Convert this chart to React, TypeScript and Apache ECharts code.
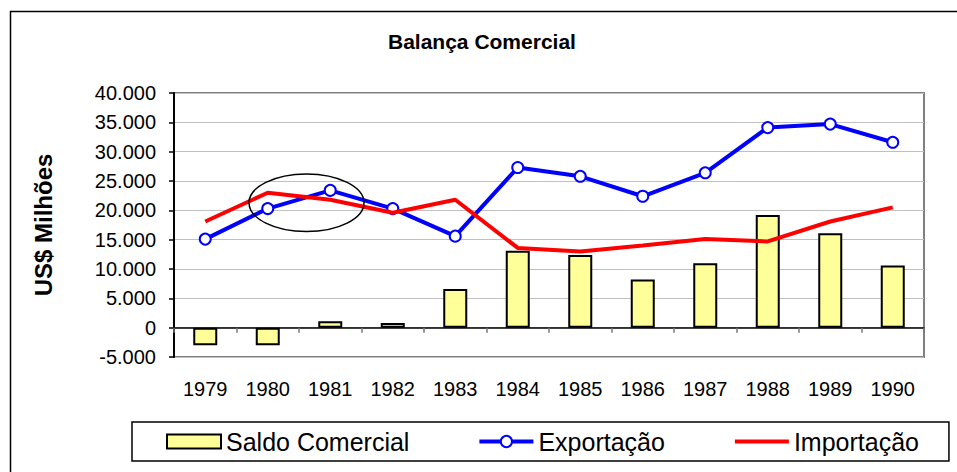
import React, { useEffect, useRef } from "react";
import * as echarts from "echarts";

const years = ["1979", "1980", "1981", "1982", "1983", "1984", "1985", "1986", "1987", "1988", "1989", "1990"];
const saldoComercial = [-3000, -3000, 1100, 800, 6600, 13100, 12400, 8200, 11000, 19200, 16100, 10600];
const exportacao = [15100, 20300, 23400, 20300, 15600, 27300, 25800, 22400, 26400, 34100, 34700, 31600];
const importacao = [18100, 23000, 21800, 19600, 21800, 13600, 13000, 14000, 15100, 14700, 18100, 20500];

const FONT = "Arial, 'Liberation Sans', Helvetica, sans-serif";

function fmt(v: number): string {
  const s = Math.abs(v).toString().replace(/\B(?=(\d{3})+(?!\d))/g, ".");
  return (v < 0 ? "-" : "") + s;
}

export default function App() {
  const ref = useRef<HTMLDivElement>(null);
  useEffect(() => {
    if (!ref.current) return;
    const chart = echarts.init(ref.current, null, { renderer: "svg" });
    chart.setOption({
      animation: false,
      backgroundColor: "#ffffff",
      textStyle: { fontFamily: FONT, color: "#000" },
      title: {
        text: "Balança Comercial",
        left: 388,
        top: 31,
        padding: 0,
        textStyle: { fontSize: 21, fontWeight: "bold", color: "#000", fontFamily: FONT },
      },
      grid: {
        left: 174,
        top: 93,
        right: 33,
        bottom: 115,
        show: true,
        borderColor: "#808080",
        borderWidth: 2,
        backgroundColor: "transparent",
      },
      legend: {
        left: 132,
        top: 422,
        orient: "horizontal",
        padding: [7, 30, 7, 34],
        itemGap: 68,
        itemWidth: 54,
        itemHeight: 14,
        borderColor: "#000",
        borderWidth: 1.5,
        textStyle: { fontSize: 25, color: "#000", fontFamily: FONT },
        data: [
          { name: "Saldo Comercial", icon: "rect" },
          { name: "Exportação", lineStyle: { width: 4 } },
          { name: "Importação", lineStyle: { width: 4 }, itemStyle: { opacity: 0 } },
        ],
      },
      xAxis: {
        type: "category",
        data: years,
        boundaryGap: true,
        axisLine: { show: true, onZero: true, lineStyle: { color: "#000", width: 1.5 } },
        axisTick: { show: true, alignWithLabel: false, length: 5, lineStyle: { color: "#777", width: 1.5 } },
        axisLabel: { fontSize: 20, color: "#000", margin: 22, fontFamily: FONT },
        splitLine: { show: false },
      },
      yAxis: {
        type: "value",
        min: -5000,
        max: 40000,
        interval: 5000,
        name: "US$ Milhões",
        nameLocation: "middle",
        nameGap: 119,
        nameRotate: 90,
        nameTextStyle: { fontSize: 24, fontWeight: "bold", color: "#000", fontFamily: FONT },
        axisLine: { show: true, lineStyle: { color: "#000", width: 2 } },
        axisTick: { show: true, length: 5, lineStyle: { color: "#000", width: 1.5 } },
        axisLabel: { fontSize: 20, color: "#000", margin: 18, formatter: (v: number) => fmt(v), fontFamily: FONT },
        splitLine: { show: true, lineStyle: { color: "#c0c0c0", width: 1 } },
      },
      series: [
        {
          name: "Saldo Comercial",
          type: "bar",
          data: saldoComercial,
          barWidth: 24,
          itemStyle: { color: "#FFFF99", borderColor: "#000", borderWidth: 2 },
          z: 2,
        },
        {
          name: "Exportação",
          type: "line",
          data: exportacao,
          symbol: "circle",
          symbolSize: 11,
          showSymbol: true,
          lineStyle: { color: "#0000FF", width: 4 },
          itemStyle: { color: "#ffffff", borderColor: "#0000FF", borderWidth: 2 },
          z: 3,
        },
        {
          name: "Importação",
          type: "line",
          data: importacao,
          symbol: "none",
          lineStyle: { color: "#FF0000", width: 4 },
          itemStyle: { color: "#FF0000" },
          z: 4,
        },
      ],
      graphic: [
        {
          type: "rect",
          shape: { x: 10.5, y: 11.5, width: 980, height: 500 },
          style: { fill: "none", stroke: "#000", lineWidth: 1.5 },
          silent: true,
          z: 100,
        },
        {
          type: "ellipse",
          shape: { cx: 306.5, cy: 202.8, rx: 57.5, ry: 28.8 },
          style: { fill: "none", stroke: "#000", lineWidth: 1.5 },
          silent: true,
          z: 100,
        },
      ],
    });
    return () => chart.dispose();
  }, []);
  return (
    <div
      ref={ref}
      style={{ position: "fixed", left: 0, top: 0, width: 957, height: 472 }}
    />
  );
}
